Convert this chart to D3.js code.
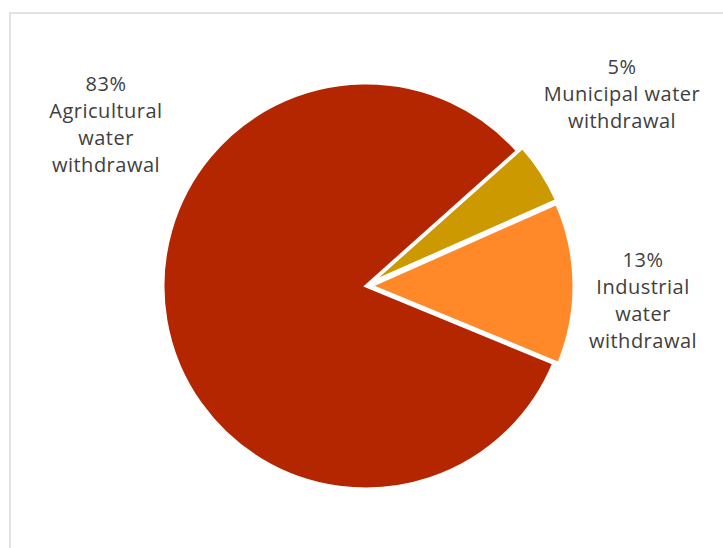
<!DOCTYPE html>
<html>
<head>
<meta charset="utf-8">
<script src="https://cdn.jsdelivr.net/npm/d3@7"></script>
<style>
  html, body { margin: 0; padding: 0; background: #fff; }
  svg { display: block; }
  .lbl { font-family: "Open Sans", sans-serif; font-size: 20px; letter-spacing: 0.5px; fill: #404040; }
</style>
</head>
<body>
<svg id="chart" width="723" height="548"></svg>
<script>
// Share of global water withdrawal by sector (percent)
const categories = ["Agricultural water withdrawal", "Municipal water withdrawal", "Industrial water withdrawal"];
const values = [83, 5, 13];
const labelLines = [
  ["83%", "Agricultural", "water", "withdrawal"],
  ["5%", "Municipal water", "withdrawal"],
  ["13%", "Industrial", "water", "withdrawal"]
];
const colors = ["#B32600", "#CC9A00", "#FF8828"];
const exploded = [0, 6, 5];

const svg = d3.select("#chart");
const W = 723, H = 548;

// chart frame
svg.append("rect")
  .attr("x", 10).attr("y", 13)
  .attr("width", W).attr("height", H)
  .attr("fill", "none")
  .attr("stroke", "#d9d9d9")
  .attr("stroke-width", 1.5);

const cx = 366, cy = 286, r = 203;
const start = 112.4 * Math.PI / 180;

const pie = d3.pie().sort(null).value(d => d)
  .startAngle(start).endAngle(start + 2 * Math.PI);
const arcs = pie(values);
const arc = d3.arc().innerRadius(0).outerRadius(r);

const g = svg.append("g").attr("transform", `translate(${cx},${cy})`);

g.selectAll("path")
  .data(arcs)
  .join("path")
  .attr("d", arc)
  .attr("fill", (d, i) => colors[i])
  .attr("stroke", "#fff")
  .attr("stroke-width", 3)
  .attr("stroke-linejoin", "miter")
  .attr("transform", (d, i) => {
    const a = (d.startAngle + d.endAngle) / 2;
    return `translate(${Math.sin(a) * exploded[i]},${-Math.cos(a) * exploded[i]})`;
  });

// label anchor positions (centre x, first baseline)
const labelPos = [[106, 91], [622, 74], [643, 267]];
const lineH = 27;

labelLines.forEach((lines, i) => {
  const t = svg.append("text")
    .attr("class", "lbl")
    .attr("text-anchor", "middle")
    .attr("x", labelPos[i][0])
    .attr("y", labelPos[i][1]);
  lines.forEach((ln, j) => {
    t.append("tspan")
      .attr("x", labelPos[i][0])
      .attr("y", labelPos[i][1] + j * lineH)
      .text(ln);
  });
});
</script>
</body>
</html>
